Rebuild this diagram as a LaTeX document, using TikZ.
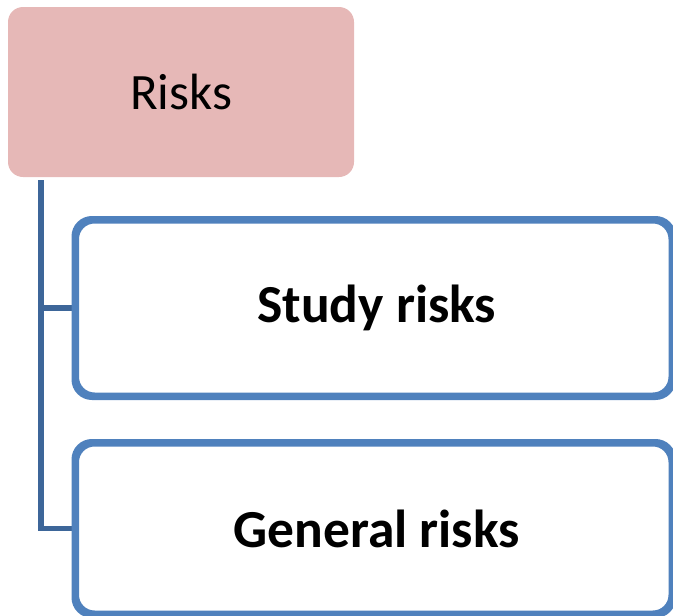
\documentclass[tikz,border=0pt]{standalone}
\usepackage{fontspec}
\setmainfont{Carlito}
\definecolor{headpink}{HTML}{E6B8B7}
\definecolor{boxblue}{HTML}{4F81BD}
\definecolor{linkblue}{HTML}{3D6699}
\begin{document}
\begin{tikzpicture}[x=1pt,y=-1pt,
  headbox/.style={fill=headpink, rounded corners=15pt, inner sep=0pt,
    minimum width=346pt, minimum height=170pt,
    font=\fontsize{51}{60}\selectfont},
  itembox/.style={draw=boxblue, line width=5pt, fill=white, rounded corners=18pt,
    inner sep=0pt, minimum width=594.5pt,
    font=\fontsize{53.5}{62}\selectfont\bfseries},
  link/.style={draw=linkblue, line width=5.5pt}]
  \useasboundingbox (0,0) rectangle (673,616);
  % header
  \node[headbox] (risks) at (181,92) {Risks};
  % branch trunk below the header
  \coordinate (trunk) at (41,180);
  % child boxes
  \node[itembox, minimum height=174pt] (study) at (373.75,308) {\hspace{6pt}Study risks};
  \node[itembox, minimum height=169pt] (general) at (373.75,528.5) {\hspace{6pt}General risks};
  % connectors
  \draw[link] (trunk) |- (general.west);
  \draw[link] (trunk |- study.west) -- (study.west);
  % redraw box outlines above the connector ends
  \draw[boxblue, line width=5pt, rounded corners=18pt]
    (study.north west) rectangle (study.south east);
  \draw[boxblue, line width=5pt, rounded corners=18pt]
    (general.north west) rectangle (general.south east);
\end{tikzpicture}
\end{document}
